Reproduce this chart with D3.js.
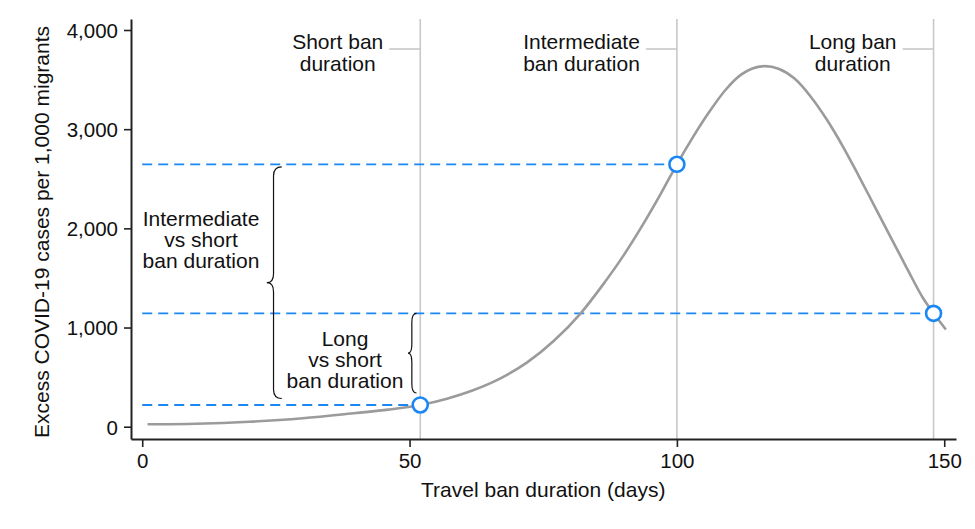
<!DOCTYPE html>
<html>
<head>
<meta charset="utf-8">
<script src="https://cdn.jsdelivr.net/npm/d3@7"></script>
<style>
  html, body { margin: 0; padding: 0; background: #fff; }
  svg { display: block; font-family: "Liberation Sans", Arial, Helvetica, sans-serif; }
</style>
</head>
<body>
<svg id="chart" width="975" height="529"></svg>
<script>
// ---- data ----
const curveDays   = [1, 10, 20, 30, 40, 46, 52, 57, 62, 67, 72, 77, 82, 86, 90, 94, 97, 100, 103, 106, 109, 112, 114, 116.5, 119, 122, 125, 128, 131, 134, 137, 140, 143, 146, 148, 150.3];
const curveValues = [24, 30, 50, 85, 138, 172, 219, 283, 370, 488, 648, 866, 1143, 1420, 1725, 2070, 2350, 2646, 2920, 3170, 3390, 3550, 3610, 3636, 3610, 3510, 3330, 3100, 2830, 2530, 2220, 1910, 1600, 1300, 1143, 980];

const banNames  = [["Short ban", "duration"], ["Intermediate", "ban duration"], ["Long ban", "duration"]];
const banDays   = [52, 100, 148];
const banValues = [219, 2646, 1143];

const xTicks = [0, 50, 100, 150];
const yTicks = [0, 1000, 2000, 3000, 4000];

const xTitle = "Travel ban duration (days)";
const yTitle = "Excess COVID-19 cases per 1,000 migrants";

// comparison braces: [from value, to value], label lines
const braceLabels = [["Intermediate", "vs short", "ban duration"], ["Long", "vs short", "ban duration"]];
const braceFrom   = [2646, 1143];
const braceTo     = [219, 219];
const braceDay    = [26.1, 51.3];

// ---- layout ----
const svg = d3.select("#chart");
const mLeft = 131, mRight = 956, mTop = 19, mBottom = 439;

const x = d3.scaleLinear().domain([-2.1, 152.2]).range([mLeft, mRight]);
const y = d3.scaleLinear().domain([-124, 4111]).range([mBottom, mTop]);

const blue = "#1a87f5";
const grey = "#9b9b9b";
const vgrey = "#c8c8c8";
const fontSize = 20;
const annSize = 21;

// vertical reference lines
svg.append("g").selectAll("line").data(banDays).join("line")
  .attr("x1", d => x(d)).attr("x2", d => x(d))
  .attr("y1", mTop).attr("y2", mBottom)
  .attr("stroke", vgrey).attr("stroke-width", 1.6);

// top labels with short connector lines
const labG = svg.append("g").attr("font-size", annSize).attr("fill", "#111");
banNames.forEach((lines, i) => {
  const lx1 = x(banDays[i]);
  const lx0 = lx1 - 31;
  labG.append("line").attr("x1", lx0).attr("x2", lx1).attr("y1", 49).attr("y2", 49)
    .attr("stroke", vgrey).attr("stroke-width", 1.6);
  const t = labG.append("text").attr("text-anchor", "middle");
  const spans = lines.map((s, j) => t.append("tspan").attr("y", 49 + j * 22).text(s));
  const w = d3.max(spans, sp => sp.node().getComputedTextLength());
  const cx = lx0 - 6 - w / 2;
  spans.forEach(sp => sp.attr("x", cx));
});

// dashed horizontal guides
svg.append("g").selectAll("line").data(banDays).join("line")
  .attr("x1", x(0)).attr("x2", (d) => x(d))
  .attr("y1", (d, i) => y(banValues[i])).attr("y2", (d, i) => y(banValues[i]))
  .attr("stroke", blue).attr("stroke-width", 1.8).attr("stroke-dasharray", "10,6");

// curve
const pts = curveDays.map((d, i) => [d, curveValues[i]]);
svg.append("path").datum(pts)
  .attr("fill", "none").attr("stroke", grey).attr("stroke-width", 2.6)
  .attr("d", d3.line().x(d => x(d[0])).y(d => y(d[1])).curve(d3.curveMonotoneX));

// braces
function bracePath(xe, y0, y1, w) {
  const xs = xe - w * 0.55, xt = xe - w, ym = (y0 + y1) / 2, r = Math.min(9, (y1 - y0) / 6);
  return `M${xe},${y0} Q${xs},${y0} ${xs},${y0 + r} L${xs},${ym - r} Q${xs},${ym} ${xt},${ym}` +
         ` Q${xs},${ym} ${xs},${ym + r} L${xs},${y1 - r} Q${xs},${y1} ${xe},${y1}`;
}
const braceW = [15, 8.5];
const braceTopPad = [2.5, 0], braceBotPad = [6.5, 12];
braceFrom.forEach((v, i) => {
  svg.append("path")
    .attr("d", bracePath(x(braceDay[i]), y(v) + braceTopPad[i], y(braceTo[i]) - braceBotPad[i], braceW[i]))
    .attr("fill", "none").attr("stroke", "#111").attr("stroke-width", 1.2);
});

// brace labels
const braceTextX = [201, 345];
const braceTextY = [226, 346];
braceLabels.forEach((lines, i) => {
  const t = svg.append("text").attr("font-size", annSize).attr("fill", "#111").attr("text-anchor", "middle");
  lines.forEach((s, j) => t.append("tspan").attr("x", braceTextX[i]).attr("y", braceTextY[i] + j * 21).text(s));
});

// points
svg.append("g").selectAll("circle").data(banDays).join("circle")
  .attr("cx", d => x(d)).attr("cy", (d, i) => y(banValues[i])).attr("r", 7.5)
  .attr("fill", "#fff").attr("stroke", blue).attr("stroke-width", 2.6);

// axes
const xAxis = svg.append("g").attr("transform", `translate(0,${mBottom})`)
  .call(d3.axisBottom(x).tickValues(xTicks).tickSize(8).tickPadding(6).tickSizeOuter(0));
const yAxis = svg.append("g").attr("transform", `translate(${mLeft},0)`)
  .call(d3.axisLeft(y).tickValues(yTicks).tickSize(7).tickPadding(6).tickSizeOuter(0).tickFormat(d3.format(",")));
[xAxis, yAxis].forEach(g => {
  g.select(".domain").attr("stroke", "#222").attr("stroke-width", 2);
  g.selectAll(".tick line").attr("stroke", "#222").attr("stroke-width", 1.6);
  g.selectAll(".tick text").attr("font-size", fontSize + 0.5).attr("fill", "#111").attr("font-family", null);
});
yAxis.selectAll(".tick text").attr("dy", "0.36em");

// axis titles
svg.append("text").attr("x", (x(0) + x(150)) / 2).attr("y", 497).attr("text-anchor", "middle")
  .attr("font-size", annSize).attr("fill", "#111").text(xTitle);
svg.append("text").attr("transform", `translate(49,232) rotate(-90)`)
  .attr("text-anchor", "middle").attr("font-size", annSize).attr("fill", "#111").text(yTitle);
</script>
</body>
</html>
